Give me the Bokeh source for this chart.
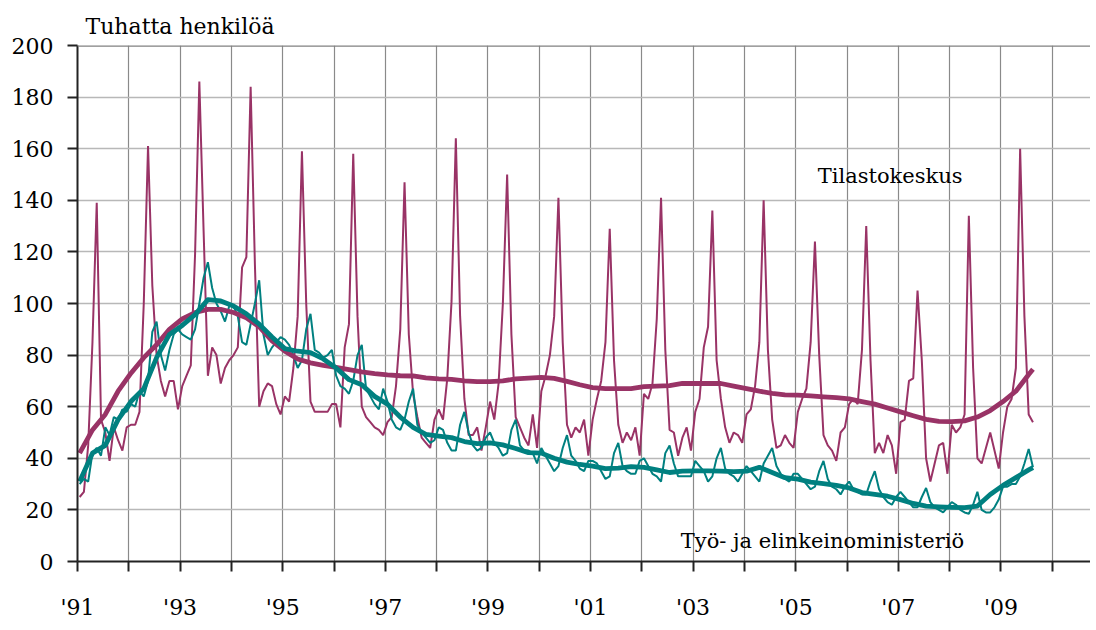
from bokeh.plotting import figure
from bokeh.models import FixedTicker, Label, Span, Range1d
from bokeh.embed import file_html
from bokeh.resources import INLINE

# ---------------- data ----------------
START_YEAR = 1991  # first month: January 1991, monthly data to August 2009

# Tilastokeskus, monthly (thousands)
tk_monthly = [
    25, 27, 45, 85, 139, 55, 50, 39, 52, 47, 43, 52,        # 1991
    53, 53, 58, 100, 161, 107, 80, 70, 64, 70, 70, 59,      # 1992
    68, 72, 76, 119, 186, 128, 72, 83, 80, 69, 75, 78,      # 1993
    80, 83, 114, 118, 184, 115, 60, 66, 69, 68, 61, 57,     # 1994
    64, 62, 75, 95, 159, 100, 62, 58, 58, 58, 58, 61,       # 1995
    61, 52, 83, 92, 158, 95, 60, 56, 54, 52, 51, 49,        # 1996
    54, 56, 68, 90, 147, 88, 65, 56, 48, 46, 44, 55,        # 1997
    59, 55, 71, 101, 164, 95, 63, 49, 49, 52, 43, 52,       # 1998
    62, 55, 69, 100, 150, 88, 56, 52, 48, 45, 57, 44,       # 1999
    66, 72, 80, 95, 141, 85, 53, 48, 52, 50, 55, 41,        # 2000
    55, 63, 70, 85, 129, 78, 53, 46, 50, 47, 52, 41,        # 2001
    65, 63, 69, 94, 141, 82, 51, 50, 41, 48, 52, 43,        # 2002
    58, 63, 83, 91, 136, 78, 63, 52, 46, 50, 49, 46,        # 2003
    57, 59, 68, 85, 140, 82, 55, 44, 45, 49, 46, 44,        # 2004
    58, 63, 67, 85, 124, 80, 49, 45, 43, 39, 50, 52,        # 2005
    61, 63, 61, 82, 130, 78, 42, 46, 42, 49, 45, 34,        # 2006
    54, 55, 70, 71, 105, 78, 40, 31, 38, 45, 46, 34,        # 2007
    53, 50, 52, 57, 134, 75, 40, 38, 44, 50, 43, 36,        # 2008
    50, 60, 63, 75, 160, 95, 57, 54,                        # 2009
]

# Työ- ja elinkeinoministeriö, monthly (thousands)
tem_monthly = [
    30, 32, 31, 42, 44, 41, 52, 49, 56, 55, 59, 58,         # 1991
    61, 60, 66, 64, 70, 89, 93, 80, 74, 82, 88, 90,         # 1992
    88, 87, 86, 90, 100, 110, 116, 106, 100, 97, 93, 99,    # 1993
    99, 95, 85, 84, 92, 100, 109, 88, 80, 83, 85, 87,       # 1994
    86, 84, 80, 75, 78, 90, 96, 82, 81, 79, 80, 82,         # 1995
    72, 68, 67, 65, 70, 80, 84, 67, 64, 61, 59, 67,         # 1996
    62, 55, 52, 51, 55, 62, 67, 53, 50, 48, 46, 47,         # 1997
    52, 51, 46, 43, 43, 53, 58, 50, 45, 43, 44, 48,         # 1998
    50, 46, 44, 41, 42, 51, 55, 45, 43, 43, 42, 38,         # 1999
    44, 41, 38, 35, 37, 44, 49, 41, 39, 36, 35, 39,         # 2000
    39, 38, 35, 32, 33, 42, 46, 37, 35, 34, 34, 39,         # 2001
    40, 37, 34, 33, 31, 42, 45, 38, 33, 33, 33, 33,         # 2002
    39, 37, 35, 31, 33, 40, 44, 36, 34, 33, 31, 34,         # 2003
    37, 35, 33, 31, 38, 41, 44, 37, 34, 32, 31, 34,         # 2004
    34, 32, 30, 28, 29, 35, 39, 32, 29, 28, 26, 29,         # 2005
    31, 28, 27, 26, 26, 31, 35, 28, 25, 23, 22, 25,         # 2006
    27, 25, 23, 21, 21, 25, 28.5, 23, 21, 20, 19, 21,       # 2007
    23, 22, 20, 19, 18.5, 22, 27, 20, 19, 19, 21, 24,       # 2008
    29, 29, 30, 30, 33, 38, 43.6, 36.5,                     # 2009
]

# trend series, read every third month (month index from Jan 1991) plus the last month
trend_months = list(range(0, 223, 3)) + [223]
tk_trend = [
    42, 51, 57, 66, 73, 79, 84, 90, 94, 96.5,
    97.7, 97.7, 96.5, 94.5, 91, 85.5, 81.5, 78.5, 77, 76,
    75.2, 74.4, 73.5, 72.8, 72.3, 72, 71.9, 71.2, 70.8, 70.6,
    70, 69.7, 69.7, 70, 70.8, 71.1, 71.4, 71, 69.8, 68.5,
    67.4, 67, 67, 67, 67.8, 68, 68.2, 69, 69, 69,
    69, 68, 67, 66, 65.2, 64.6, 64.5, 64.2, 63.8, 63.5,
    63, 62, 61, 59.5, 58, 56.5, 55.1, 54.3, 54.2, 54.5,
    56, 58.5, 62, 66, 72.5, 74.5,
]
tem_trend = [
    31, 42, 45, 55, 62, 67, 79, 88, 91.5, 95.7,
    101.5, 101, 99, 96, 92, 87, 82.5, 81.5, 81, 78.5,
    75, 70.5, 68.5, 64, 61, 56, 52, 49.3, 48.6, 48,
    46.5, 45.7, 46, 45.2, 43.8, 42.2, 42, 40, 38.5, 37.6,
    37, 36, 36.2, 36.8, 36.5, 35.5, 34.5, 35, 35.1, 35.1,
    35, 34.8, 35, 36.5, 34.5, 32.5, 31.9, 30.8, 30.2, 29.5,
    28.5, 26.7, 26, 25.3, 24, 22.5, 21.5, 21.2, 21, 20.9,
    21.5, 26, 29.5, 32.5, 35.5, 36.4,
]

year_ticks = list(range(1991, 2011))
tick_labels = ["'91", "'93", "'95", "'97", "'99", "'01", "'03", "'05", "'07", "'09"]
y_ticks = list(range(0, 201, 20))

title_text = "Tuhatta henkilöä"
tk_name = "Tilastokeskus"
tem_name = "Työ- ja elinkeinoministeriö"

# ---------------- derived x positions ----------------
def month_x(i):
    return START_YEAR + (i + 0.5) / 12.0

x_monthly = [month_x(i) for i in range(len(tk_monthly))]
x_trend = [month_x(i) for i in trend_months]

# ---------------- styling ----------------
FONT = "DejaVu Serif"
FS = "22px"
LABEL_FS = "21px"
TK_COLOR = "#993366"
TEM_COLOR = "#008080"

W, H = 1090, 622
LEFT, TOP, BOTTOM = 77, 45, 61
FRAME_W = W - LEFT

p = figure(
    width=W, height=H,
    output_backend="svg", toolbar_location=None,
    x_range=Range1d(1991, 1991 + FRAME_W / 51.3),
    y_range=Range1d(0, 200),
    min_border_left=LEFT, min_border_right=0,
    min_border_top=TOP, min_border_bottom=BOTTOM,
)
p.outline_line_color = None
p.background_fill_color = "white"
p.border_fill_color = "white"

p.title.text = title_text
p.title.text_font = FONT
p.title.text_font_size = FS
p.title.text_font_style = "normal"
p.title.text_color = "#000000"
p.title.align = "left"
p.title.offset = 8
p.title.standoff = 14

# axes
p.xaxis.ticker = FixedTicker(ticks=year_ticks)
overrides = {}
k = 0
for y in year_ticks:
    if (y - year_ticks[0]) % 2 == 0:
        overrides[y] = tick_labels[k]
        k += 1
    else:
        overrides[y] = ""
p.xaxis.major_label_overrides = overrides
p.yaxis.ticker = FixedTicker(ticks=y_ticks)

for ax in (p.xaxis, p.yaxis):
    ax.axis_line_color = "#222222"
    ax.axis_line_width = 2
    ax.major_tick_line_color = "#222222"
    ax.major_tick_line_width = 2
    ax.major_tick_in = 0
    ax.major_tick_out = 10
    ax.minor_tick_line_color = None
    ax.major_label_text_font = FONT
    ax.major_label_text_font_size = FS
    ax.major_label_text_color = "#000000"
p.xaxis.major_label_standoff = 23
p.yaxis.major_label_standoff = 14

p.xgrid.ticker = FixedTicker(ticks=year_ticks)
p.xgrid.grid_line_color = "#8a8a8a"
p.xgrid.grid_line_width = 1.2
p.ygrid.ticker = FixedTicker(ticks=y_ticks)
p.ygrid.grid_line_color = "#b8b8b8"
p.ygrid.grid_line_width = 1.6

p.add_layout(Span(location=200, dimension="width", line_color="#808080", line_width=2.5))

# series
p.line(x_monthly, tk_monthly, line_color=TK_COLOR, line_width=2)
p.line(x_monthly, tem_monthly, line_color=TEM_COLOR, line_width=2)
p.line(x_trend, tk_trend, line_color=TK_COLOR, line_width=4.8, line_join="round")
p.line(x_trend, tem_trend, line_color=TEM_COLOR, line_width=4.8, line_join="round")

# series labels
p.add_layout(Label(x=2005.43, y=149.5, text=tk_name, text_font=FONT,
                   text_font_size=LABEL_FS, text_color="#000000",
                   text_baseline="middle", text_align="left"))
p.add_layout(Label(x=2002.76, y=8.1, text=tem_name, text_font=FONT,
                   text_font_size=LABEL_FS, text_color="#000000",
                   text_baseline="middle", text_align="left"))

open("out.html", "w").write(file_html(p, INLINE))
